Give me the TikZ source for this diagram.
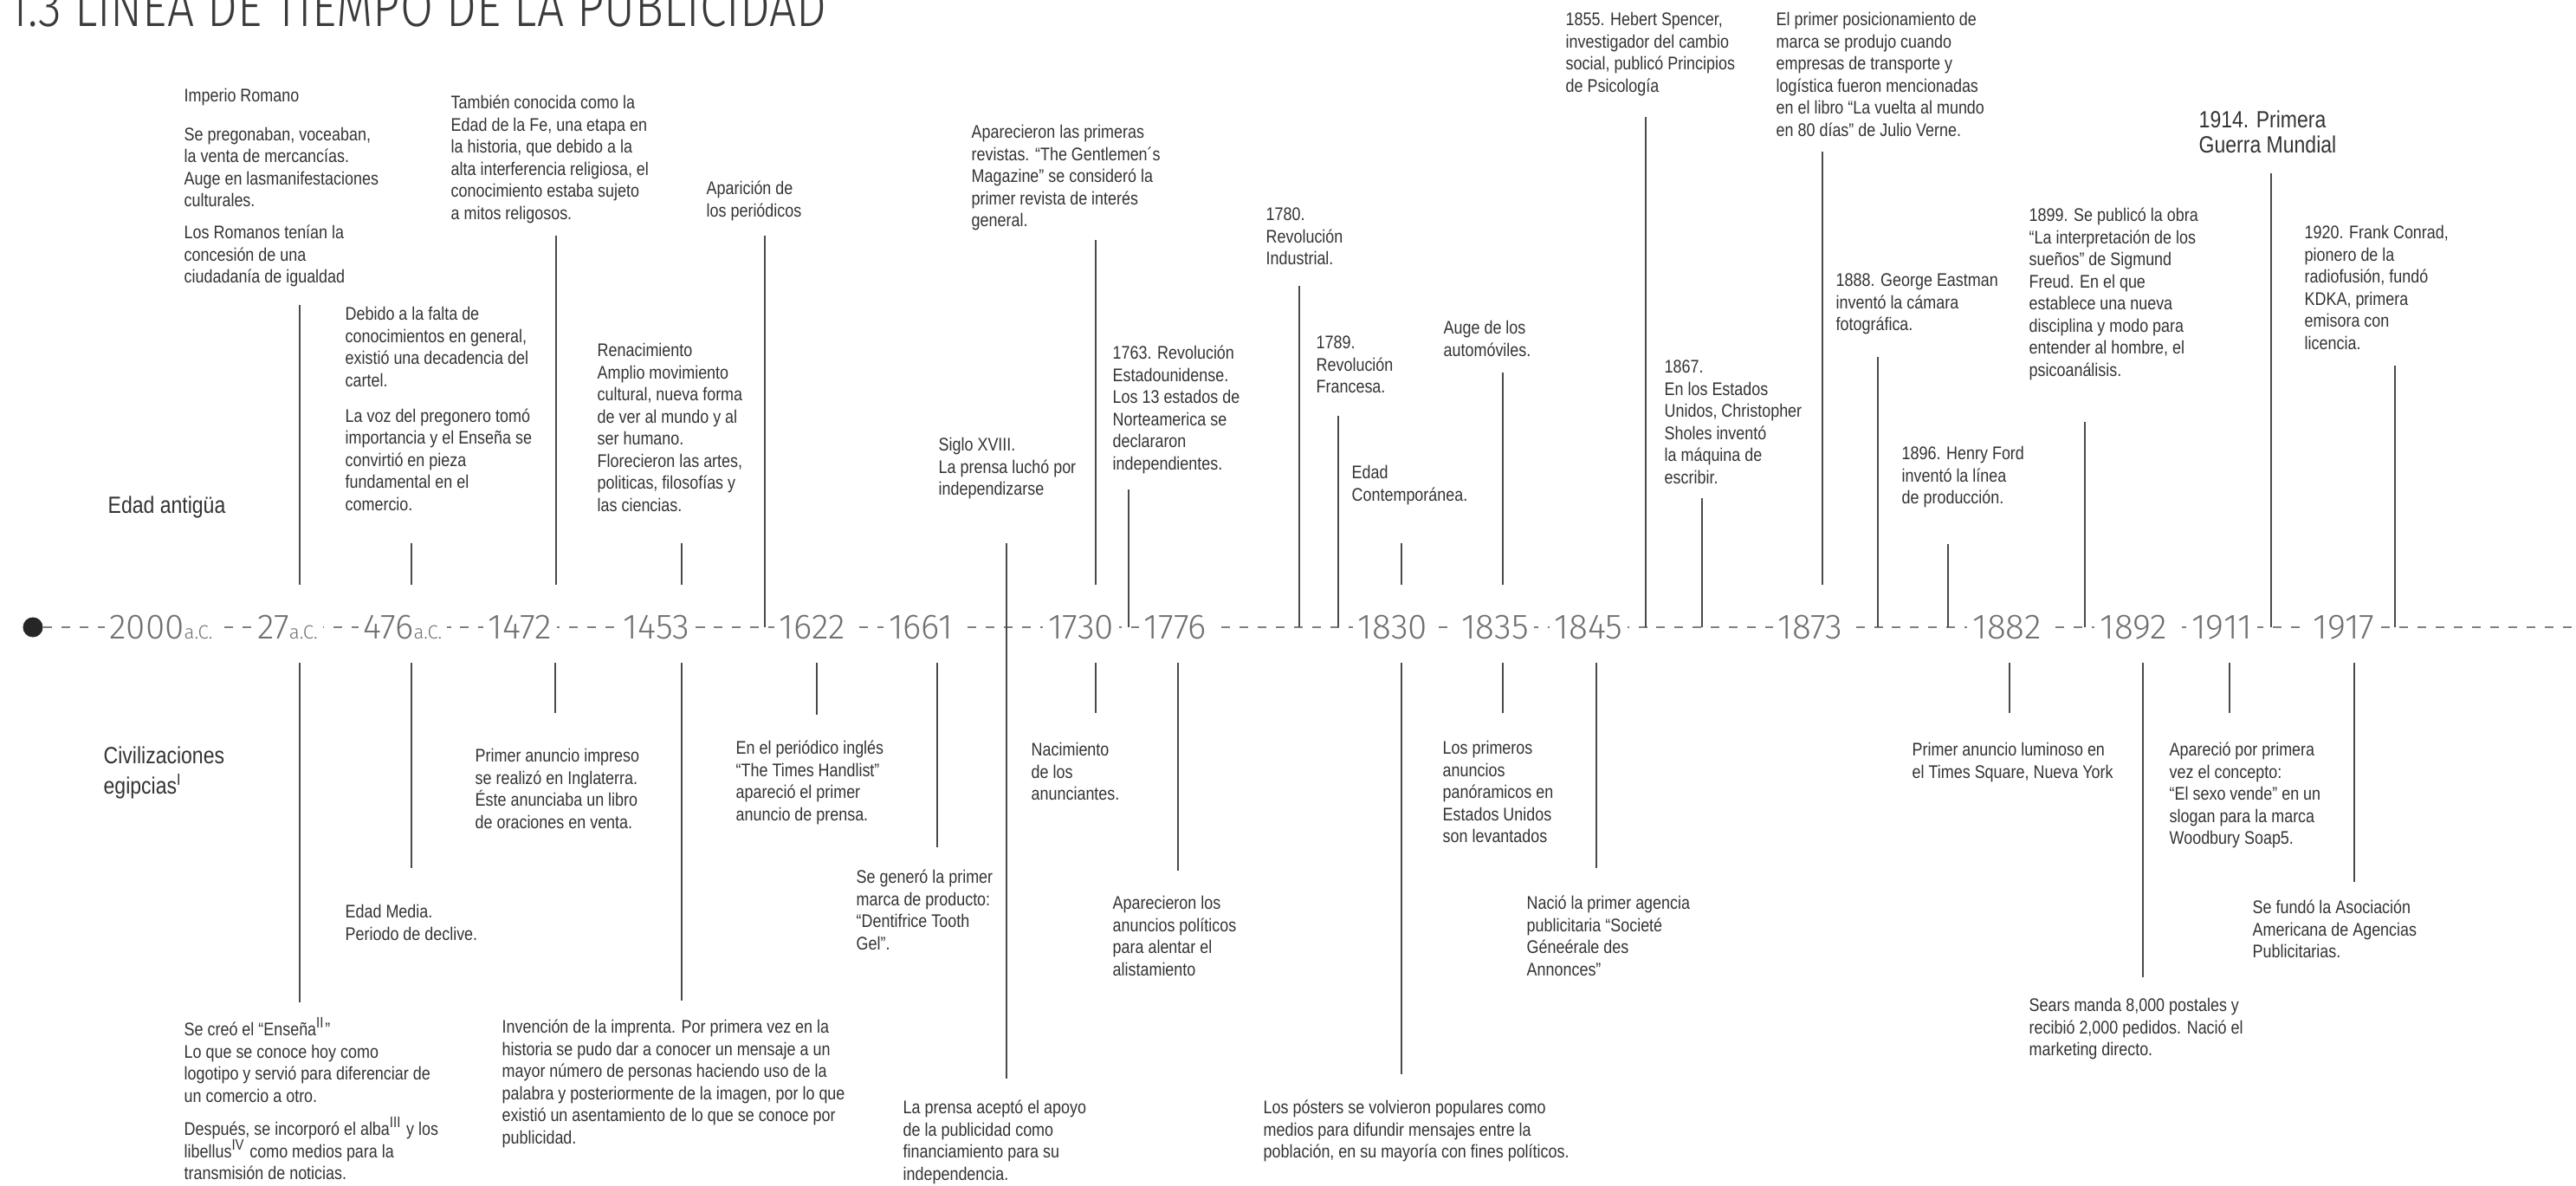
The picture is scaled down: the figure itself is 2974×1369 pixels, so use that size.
\documentclass[tikz,border=0pt]{standalone}
\usepackage{fontspec}
\usepackage{graphicx}
\setmainfont{Liberation Sans}[FakeStretch=0.85]
\newfontfamily\yearfont{Fira Sans Light}
\definecolor{tc}{HTML}{333333}
\definecolor{yc}{HTML}{707070}
\definecolor{lc}{HTML}{4A4A4A}
\definecolor{dc}{HTML}{808080}
\definecolor{titc}{HTML}{3A3A3A}
\tikzset{
  txt/.style={anchor=north west, inner sep=0pt, align=left, text=tc,
    font=\fontsize{6}{7.25}\selectfont},
  bigtxt/.style={anchor=north west, inner sep=0pt, align=left, text=tc,
    font=\fontsize{7.7}{8.4}\selectfont},
  yr/.style={fill=white, inner xsep=0.06cm, inner ysep=0.03cm, text=yc,
    font=\yearfont\fontsize{11.5}{12}\selectfont},
  vline/.style={draw=lc, line width=0.5pt},
  dashln/.style={draw=dc, line width=0.6pt, dash pattern=on 2.85pt off 3.1pt},
}
\newcommand\ac{{\fontsize{6.3}{7}\selectfont a.C.}}
\newcommand\vln[4]{\coordinate (#1a) at (#2,#3); \coordinate (#1b) at (#2,#4); \draw[vline] (#1a) -- (#1b);}
\begin{document}
\begin{tikzpicture}[x=0.01cm, y=-0.01cm]
\useasboundingbox (0,0) rectangle (2974,1369);

% title (cut at the top edge, as in the reference)
\node[anchor=south west, inner sep=0pt, text=titc] (title) at (9,32)
  {\resizebox{9.44cm}{0.46cm}{\yearfont\fontsize{16.5}{18}\selectfont 1.3 LINEA DE TIEMPO DE LA PUBLICIDAD}};

% timeline
\node[circle, fill=black!85, minimum size=0.23cm, inner sep=0pt] (dot) at (38,724) {};
\coordinate (tlend) at (2974,724);
\draw[dashln] (dot) -- (tlend);

% years
\node[yr] (y2000) at (186,724) {2000\ac};
\node[yr] (y27)   at (332,724) {27\ac};
\node[yr] (y476)  at (465,724) {476\ac};
\node[yr] (y1472) at (600,724) {1472};
\node[yr] (y1453) at (758,724) {1453};
\node[yr] (y1622) at (938,724) {1622};
\node[yr] (y1661) at (1063,724) {1661};
\node[yr] (y1730) at (1248,724) {1730};
\node[yr] (y1776) at (1357,724) {1776};
\node[yr] (y1830) at (1608,724) {1830};
\node[yr] (y1835) at (1726,724) {1835};
\node[yr] (y1845) at (1834,724) {1845};
\node[yr] (y1873) at (2090,724) {1873};
\node[yr] (y1882) at (2317,724) {1882};
\node[yr] (y1892) at (2463,724) {1892};
\node[yr] (y1911) at (2565,724) {1911};
\node[yr] (y1917) at (2706,724) {1917};

% vertical connectors above
\vln{L1}{346}{352}{675}
\vln{L2}{475}{627}{675}
\vln{L3}{642}{272}{675}
\vln{L4}{787}{627}{675}
\vln{L5}{883}{272}{724}
\vln{L6}{1162}{627}{1245}
\vln{L7}{1265}{277}{675}
\vln{L8}{1303}{565}{724}
\vln{L9}{1500}{330}{724}
\vln{L10}{1545}{480}{724}
\vln{L11}{1618}{627}{675}
\vln{L12}{1735}{430}{675}
\vln{L13}{1900}{135}{724}
\vln{L14}{1965}{575}{724}
\vln{L15}{2104}{175}{675}
\vln{L16}{2168}{412}{724}
\vln{L17}{2249}{628}{724}
\vln{L18}{2407}{487}{724}
\vln{L19}{2622}{200}{724}
\vln{L20}{2765}{422}{724}
% below
\vln{B1}{346}{765}{1157}
\vln{B2}{475}{765}{1002}
\vln{B3}{641}{765}{823}
\vln{B4}{787}{765}{1155}
\vln{B5}{943}{765}{825}
\vln{B6}{1082}{765}{978}
\vln{B7}{1265}{765}{823}
\vln{B8}{1360}{765}{1005}
\vln{B9}{1618}{765}{1240}
\vln{B10}{1735}{765}{823}
\vln{B11}{1843}{765}{1002}
\vln{B12}{2320}{765}{823}
\vln{B13}{2474}{765}{1128}
\vln{B14}{2574}{765}{823}
\vln{B15}{2718}{765}{1018}

% texts above
\node[txt] (t1) at (212,99) {\strut Imperio Romano\\[5.4pt] Se pregonaban, voceaban,\\ la venta de mercancías.\\ Auge en lasmanifestaciones\\ culturales.\\[3.4pt] Los Romanos tenían la\\ concesión de una\\ ciudadanía de igualdad};
\node[txt] (t2) at (520,107) {\strut También conocida como la\\ Edad de la Fe, una etapa en\\ la historia, que debido a la\\ alta interferencia religiosa, el\\ conocimiento estaba sujeto\\ a mitos religosos.};
\node[txt] (t3) at (398,351) {\strut Debido a la falta de\\ conocimientos en general,\\ existió una decadencia del\\ cartel.\\[4.5pt] La voz del pregonero tomó\\ importancia y el Enseña se\\ convirtió en pieza\\ fundamental en el\\ comercio.};
\node[txt] (t4) at (689,393) {\strut Renacimiento\\ Amplio movimiento\\ cultural, nueva forma\\ de ver al mundo y al\\ ser humano.\\ Florecieron las artes,\\ politicas, filosofías y\\ las ciencias.};
\node[txt] (t5) at (815,206) {\strut Aparición de\\ los periódicos};
\node[txt] (t6) at (1121,141) {\strut Aparecieron las primeras\\ revistas. “The Gentlemen´s\\ Magazine” se consideró la\\ primer revista de interés\\ general.};
\node[txt] (t7) at (1083,502) {\strut Siglo XVIII.\\ La prensa luchó por\\ independizarse};
\node[txt] (t8) at (1284,396) {\strut 1763. Revolución\\ Estadounidense.\\ Los 13 estados de\\ Norteamerica se\\ declararon\\ independientes.};
\node[txt] (t9) at (1461,236) {\strut 1780.\\ Revolución\\ Industrial.};
\node[txt] (t10) at (1519,384) {\strut 1789.\\ Revolución\\ Francesa.};
\node[txt] (t11) at (1666,367) {\strut Auge de los\\ automóviles.};
\node[txt] (t12) at (1560,534) {\strut Edad\\ Contemporánea.};
\node[txt] (t13) at (1807,11) {\strut 1855. Hebert Spencer,\\ investigador del cambio\\ social, publicó Principios\\ de Psicología};
\node[txt] (t14) at (2050,11) {\strut El primer posicionamiento de\\ marca se produjo cuando\\ empresas de transporte y\\ logística fueron mencionadas\\ en el libro “La vuelta al mundo\\ en 80 días” de Julio Verne.};
\node[txt] (t15) at (1921,412) {\strut 1867.\\ En los Estados\\ Unidos, Christopher\\ Sholes inventó\\ la máquina de\\ escribir.};
\node[txt] (t16) at (2119,312) {\strut 1888. George Eastman\\ inventó la cámara\\ fotográfica.};
\node[txt] (t17) at (2195,512) {\strut 1896. Henry Ford\\ inventó la línea\\ de producción.};
\node[txt] (t18) at (2342,237) {\strut 1899. Se publicó la obra\\ “La interpretación de los\\ sueños” de Sigmund\\ Freud. En el que\\ establece una nueva\\ disciplina y modo para\\ entender al hombre, el\\ psicoanálisis.};
\node[bigtxt] (t19) at (2538,126) {\strut 1914. Primera\\ Guerra Mundial};
\node[txt] (t20) at (2660,257) {\strut 1920. Frank Conrad,\\ pionero de la\\ radiofusión, fundó\\ KDKA, primera\\ emisora con\\ licencia.};
\node[bigtxt] (t21) at (124,571) {\strut Edad antigüa};

% texts below
\node[bigtxt] (u1) at (119,860) {\strut Civilizaciones\\ egipcias\textsuperscript{I}};
\node[txt] (u2) at (548,861) {\strut Primer anuncio impreso\\ se realizó en Inglaterra.\\ Éste anunciaba un libro\\ de oraciones en venta.};
\node[txt] (u3) at (398,1041) {\strut Edad Media.\\ Periodo de declive.};
\node[txt] (u4) at (212,1174) {\strut Se creó el “Enseña\textsuperscript{II}”\\ Lo que se conoce hoy como\\ logotipo y servió para diferenciar de\\ un comercio a otro.\\[3.7pt] Después, se incorporó el alba\textsuperscript{III} y los\\ libellus\textsuperscript{IV} como medios para la\\ transmisión de noticias.};
\node[txt] (u5) at (579,1174) {\strut Invención de la imprenta. Por primera vez en la\\ historia se pudo dar a conocer un mensaje a un\\ mayor número de personas haciendo uso de la\\ palabra y posteriormente de la imagen, por lo que\\ existió un asentamiento de lo que se conoce por\\ publicidad.};
\node[txt] (u6) at (849,852) {\strut En el periódico inglés\\ “The Times Handlist”\\ apareció el primer\\ anuncio de prensa.};
\node[txt] (u7) at (988,1001) {\strut Se generó la primer\\ marca de producto:\\ “Dentifrice Tooth\\ Gel”.};
\node[txt] (u8) at (1190,854) {\strut Nacimiento\\ de los\\ anunciantes.};
\node[txt] (u9) at (1284,1031) {\strut Aparecieron los\\ anuncios políticos\\ para alentar el\\ alistamiento};
\node[txt] (u10) at (1042,1267) {\strut La prensa aceptó el apoyo\\ de la publicidad como\\ financiamiento para su\\ independencia.};
\node[txt] (u11) at (1458,1267) {\strut Los pósters se volvieron populares como\\ medios para difundir mensajes entre la\\ población, en su mayoría con fines políticos.};
\node[txt] (u12) at (1665,852) {\strut Los primeros\\ anuncios\\ panóramicos en\\ Estados Unidos\\ son levantados};
\node[txt] (u13) at (1762,1031) {\strut Nació la primer agencia\\ publicitaria “Societé\\ Géneérale des\\ Annonces”};
\node[txt] (u14) at (2207,854) {\strut Primer anuncio luminoso en\\ el Times Square, Nueva York};
\node[txt] (u15) at (2504,854) {\strut Apareció por primera\\ vez el concepto:\\ “El sexo vende” en un\\ slogan para la marca\\ Woodbury Soap5.};
\node[txt] (u16) at (2342,1149) {\strut Sears manda 8,000 postales y\\ recibió 2,000 pedidos. Nació el\\ marketing directo.};
\node[txt] (u17) at (2600,1036) {\strut Se fundó la Asociación\\ Americana de Agencias\\ Publicitarias.};
\end{tikzpicture}
\end{document}
